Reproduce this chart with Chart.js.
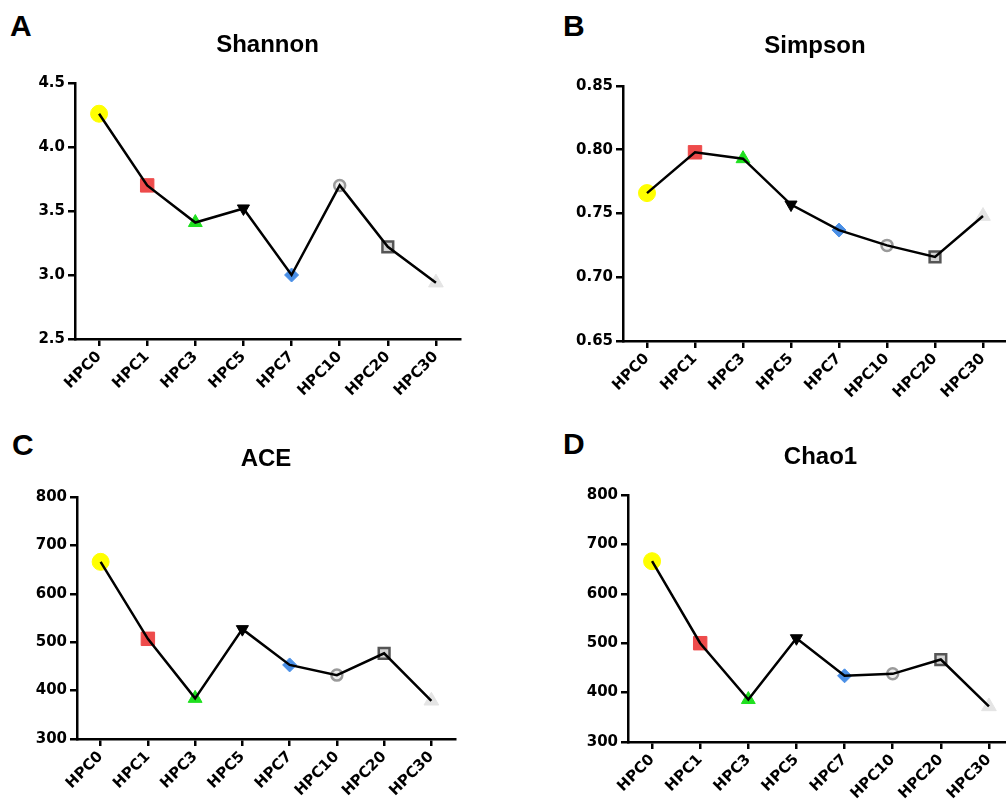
<!DOCTYPE html>
<html>
<head>
<meta charset="utf-8">
<script src="https://cdn.jsdelivr.net/npm/chart.js@4.4.1/dist/chart.umd.min.js"></script>
<style>
	html, body { margin: 0; padding: 0; background: #fff; width: 1006px; height: 806px; overflow: hidden; position: relative; }
	canvas { position: absolute; }
	.tag { position: absolute; font: bold 30px "Liberation Sans", Arial, sans-serif; line-height: 1; color: #000; }
</style>
</head>
<body>
<div class="tag" style="left:10px;top:11px">A</div>
<div class="tag" style="left:563px;top:11px">B</div>
<div class="tag" style="left:12px;top:430px">C</div>
<div class="tag" style="left:563px;top:429px">D</div>
<canvas id="chartA"></canvas>
<canvas id="chartB"></canvas>
<canvas id="chartC"></canvas>
<canvas id="chartD"></canvas>
<script>
// Categories
const groups = ["HPC0", "HPC1", "HPC3", "HPC5", "HPC7", "HPC10", "HPC20", "HPC30"];

// Series values
const shannon = [4.26, 3.70, 3.41, 3.52, 3.00, 3.70, 3.22, 2.94];
const simpson = [0.766, 0.798, 0.793, 0.757, 0.737, 0.725, 0.716, 0.748];
const ace = [666, 507, 384, 527, 453, 432, 477, 379];
const chao1 = [666, 500, 386, 510, 434, 438, 467, 372];

// Tick labels
const shannonTicks = [2.5, 3.0, 3.5, 4.0, 4.5];
const simpsonTicks = [0.65, 0.70, 0.75, 0.80, 0.85];
const aceTicks = [300, 400, 500, 600, 700, 800];
const chao1Ticks = [300, 400, 500, 600, 700, 800];

// Marker look for each group
const markerStyle = ["circle", "rect", "triangle", "triangle", "rectRot", "circle", "rect", "triangle"];
const markerFill = ["#ffff00", "#ee4b4b", "#1fe01f", "#000000", "#4a8fe6", "#eeeeee", "#d4d4d4", "#e4e4e4"];
const markerEdge = ["#ffff00", "#ee4b4b", "#1fe01f", "#000000", "#4a8fe6", "#9a9a9a", "#555555", "#e4e4e4"];
const markerSize = [8.5, 9.5, 8, 7, 7, 5.5, 7.6, 8.5];
const markerEdgeWidth = [1, 1, 1, 1, 1, 2.5, 2.5, 1];
const markerRotation = [0, 0, 0, 180, 0, 0, 0, 0];

const tickFont = { family: "'DejaVu Sans', Verdana, sans-serif", size: 15, weight: "bold" };

function makePanel(id, title, values, ticks, decimals, box) {
	// box: where the plot area sits on the page
	const canvas = document.getElementById(id);
	const left = box.areaLeft - 75;
	const top = box.titleY - 30;
	const width = box.areaRight + 65 - left;
	const height = box.areaBottom + 62 - top;
	canvas.width = width;
	canvas.height = height;
	canvas.style.left = left + "px";
	canvas.style.top = top + "px";

	return new Chart(canvas.getContext("2d"), {
		type: "line",
		data: {
			labels: groups,
			datasets: [
				{
					// line on top of the markers
					data: values,
					borderColor: "#000",
					borderWidth: 2.5,
					pointRadius: 0,
					tension: 0,
					order: 1,
				},
				{
					data: values,
					showLine: false,
					pointStyle: markerStyle,
					pointBackgroundColor: markerFill,
					pointBorderColor: markerEdge,
					pointBorderWidth: markerEdgeWidth,
					pointRadius: markerSize,
					pointRotation: markerRotation,
					order: 2,
				},
			],
		},
		options: {
			responsive: false,
			animation: false,
			events: [],
			layout: { padding: { left: 20, right: 10, top: 0, bottom: 2 } },
			plugins: {
				legend: { display: false },
				tooltip: { enabled: false },
				title: {
					display: true,
					text: title,
					color: "#000",
					font: { family: "'Liberation Sans', Arial, sans-serif", size: 24, weight: "bold" },
					padding: { top: 15.6, bottom: box.areaTop - top - 15.6 - 28.8 },
				},
			},
			scales: {
				x: {
					offset: true,
					grid: { drawOnChartArea: false, drawTicks: true, tickLength: 7, color: "#000", lineWidth: 2.5 },
					border: { display: true, color: "#000", width: 2.5 },
					ticks: { color: "#000", font: tickFont, minRotation: 45, maxRotation: 45, autoSkip: false, padding: 2 },
					afterFit: (scale) => { scale.height = 60; },
				},
				y: {
					min: ticks[0],
					max: ticks[ticks.length - 1],
					grid: { drawOnChartArea: false, drawTicks: true, tickLength: 7, color: "#000", lineWidth: 2.5 },
					border: { display: true, color: "#000", width: 2.5 },
					ticks: {
						color: "#000",
						font: tickFont,
						padding: 3,
						callback: (v) => Number(v).toFixed(decimals),
					},
					afterBuildTicks: (scale) => { scale.ticks = ticks.map((v) => ({ value: v })); },
					afterFit: (scale) => { scale.width = 55; },
				},
				// empty right axis, only so the title centres over the plot
				y2: {
					position: "right",
					grid: { display: false },
					border: { display: false },
					ticks: { display: false },
					afterFit: (scale) => { scale.width = 55; },
				},
			},
		},
	});
}

makePanel("chartA", "Shannon", shannon, shannonTicks, 1, { areaLeft: 75, areaRight: 460, areaTop: 83, areaBottom: 339, titleY: 45 });
makePanel("chartB", "Simpson", simpson, simpsonTicks, 2, { areaLeft: 623, areaRight: 1007, areaTop: 86, areaBottom: 341, titleY: 46 });
makePanel("chartC", "ACE", ace, aceTicks, 0, { areaLeft: 77, areaRight: 455, areaTop: 497, areaBottom: 739, titleY: 459 });
makePanel("chartD", "Chao1", chao1, chao1Ticks, 0, { areaLeft: 628, areaRight: 1013, areaTop: 495, areaBottom: 742, titleY: 457 });
</script>
</body>
</html>
